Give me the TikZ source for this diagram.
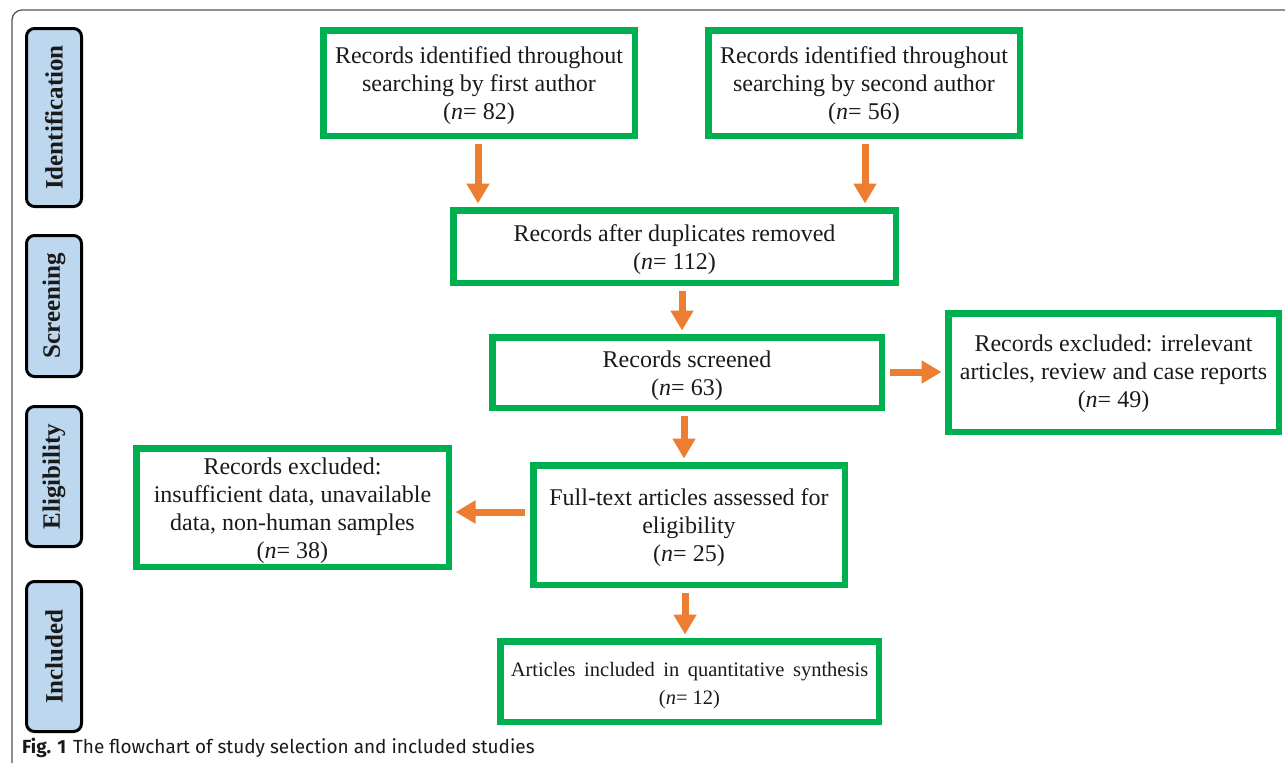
\documentclass[tikz,border=0pt]{standalone}
\usepackage{fontspec}
\setmainfont{Liberation Serif}
\newfontfamily\capfont{Fira Sans}
\usetikzlibrary{arrows.meta}
\definecolor{boxgreen}{HTML}{00B050}
\definecolor{arrorange}{HTML}{ED7D31}
\definecolor{sideblue}{HTML}{BDD7EE}
\definecolor{framegray}{HTML}{555555}
\definecolor{txt}{HTML}{1A1A1A}
\tikzset{
  gbox/.style={draw=boxgreen, line width=6.5pt, fill=white, inner sep=0pt},
  gtext/.style={align=center, inner sep=0pt, text=txt, yshift=-3pt,
    font=\fontsize{24}{28}\selectfont},
  sidebox/.style={draw=black, line width=3pt, fill=sideblue, rounded corners=8pt,
    rotate=90, inner sep=0pt, minimum height=55pt, text=txt,
    font=\fontsize{25}{28}\selectfont\bfseries},
  arr/.style={draw=arrorange, line width=7pt,
    -{Triangle[width=22pt,length=20pt]}, shorten <=5pt, shorten >=3.5pt},
}
\begin{document}
\begin{tikzpicture}[x=1pt,y=-1pt]
\useasboundingbox (0,0) rectangle (1285,763);
% frame
\draw[framegray, line width=1.3pt, rounded corners=10pt] (12,763) -- (12,10) -- (1285,10);
% side labels
\node[sidebox, minimum width=178pt] (sid) at (54,117.5) {Identification};
\node[sidebox, minimum width=141pt] (ssc) at (54,306) {Screening};
\node[sidebox, minimum width=140pt] (sel) at (54,476.5) {Eligibility};
\node[sidebox, minimum width=150pt] (sin) at (54,656.5) {Included};
% boxes
\node[gbox, minimum width=311.5pt, minimum height=105.5pt,
  label={[gtext, name=t1]center:{Records identified throughout\\searching by first author\\(\textit{n}= 82)}}] (b1) at (479,83) {};
\node[gbox, minimum width=311.5pt, minimum height=105.5pt,
  label={[gtext, name=t2]center:{Records identified throughout\\searching by second author\\(\textit{n}= 56)}}] (b2) at (864,83) {};
\node[gbox, minimum width=442.5pt, minimum height=72.5pt,
  label={[gtext, name=t3]center:{Records after duplicates removed\\(\textit{n}= 112)}}] (b3) at (674.5,246.5) {};
\node[gbox, minimum width=389.5pt, minimum height=70.5pt,
  label={[gtext, name=t4]center:{Records screened\\(\textit{n}= 63)}}] (b4) at (687,372.5) {};
\node[gbox, minimum width=330.5pt, minimum height=118.5pt,
  label={[gtext, name=t5, yshift=2pt]center:{Records excluded: irrelevant\\articles, review and case reports\\(\textit{n}= 49)}}] (b5) at (1113.5,372.5) {};
\node[gbox, minimum width=311.5pt, minimum height=119.5pt,
  label={[gtext, name=t6]center:{Full-text articles assessed for\\eligibility\\(\textit{n}= 25)}}] (b6) at (689,525) {};
\node[gbox, minimum width=312.5pt, minimum height=118.5pt,
  label={[gtext, name=t7]center:{Records excluded:\\insufficient data, unavailable\\data, non-human samples\\(\textit{n}= 38)}}] (b7) at (292.5,507.5) {};
\node[gbox, minimum width=378.5pt, minimum height=80.5pt,
  label={[gtext, name=t8, font=\fontsize{20.5}{28}\selectfont, yshift=-1.5pt]center:{{\spaceskip=8.5pt Articles included in quantitative synthesis}\\(\textit{n}= 12)}}] (b8) at (689.5,681.5) {};
% arrows
\draw[arr] (b1.south -| 478,0) -- (b3.north -| 478,0);
\draw[arr] (b2.south -| 865,0) -- (b3.north -| 865,0);
\draw[arr] (b3.south -| 682,0) -- (b4.north -| 682,0);
\draw[arr] (b4.east |- 0,372) -- (b5.west |- 0,372);
\draw[arr] (b4.south -| 684,0) -- (b6.north -| 684,0);
\draw[arr] (b6.west |- 0,512) -- (b7.east |- 0,512);
\draw[arr] (b6.south -| 685,0) -- (b8.north -| 685,0);
% caption
\node[anchor=west, inner sep=0pt, text=txt, font=\capfont\fontsize{19}{22}\selectfont] (cap) at (22,748)
  {\textbf{Fig. 1}\hspace{7pt}The flowchart of study selection and included studies};
\end{tikzpicture}
\end{document}
